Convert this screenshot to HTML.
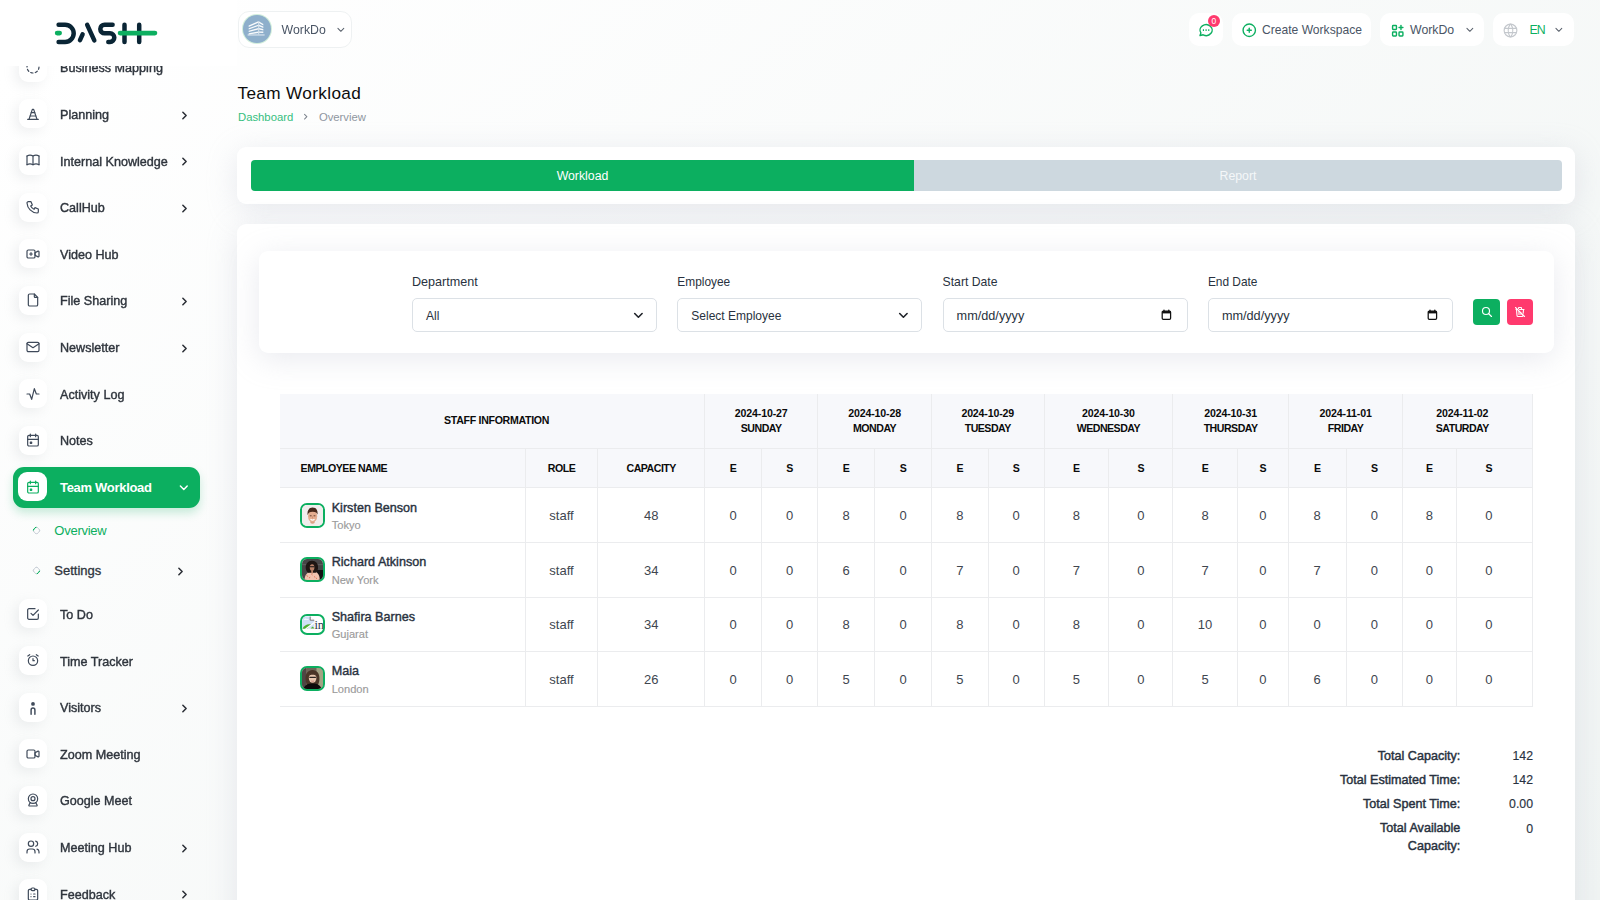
<!DOCTYPE html><html><head><meta charset="utf-8"><title>Team Workload</title><style>
*{box-sizing:border-box;margin:0;padding:0}
html,body{width:1600px;height:900px;overflow:hidden}
body{font-family:"Liberation Sans",sans-serif;background:#fff linear-gradient(141.55deg,rgba(240,244,243,0) 3.46%,#f0f4f3 99.86%);position:relative}
.t{position:absolute;white-space:nowrap}
.ic{position:absolute;overflow:visible}
.b{position:absolute}
</style></head><body>
<div class="b" style="left:18.5px;top:52.60px;width:28.5px;height:29px;border-radius:9px;background:#fff;box-shadow:-4px 4px 12px rgba(160,165,175,.16)"></div>
<svg class="ic" style="left:24.75px;top:59.10px;width:16px;height:16px;" viewBox="0 0 24 24" fill="none" stroke="#3f4a5a" stroke-width="1.8" stroke-linecap="round" stroke-linejoin="round"><path d="M8.56 3.69a9 9 0 0 0 -2.92 1.95"/><path d="M3.69 8.56a9 9 0 0 0 -.69 3.44"/><path d="M3.69 15.44a9 9 0 0 0 1.95 2.92"/><path d="M8.56 20.31a9 9 0 0 0 3.44 .69"/><path d="M15.44 20.31a9 9 0 0 0 2.92 -1.95"/><path d="M20.31 15.44a9 9 0 0 0 .69 -3.44"/><path d="M20.31 8.56a9 9 0 0 0 -1.95 -2.92"/><path d="M15.44 3.69a9 9 0 0 0 -3.44 -.69"/></svg>
<div class="t" style="left:60.00px;top:62.23px;font-size:12.6px;line-height:12.6px;color:#2f353d;font-weight:400;-webkit-text-stroke:0.4px #2f353d;will-change:transform;">Business Mapping</div>
<div class="b" style="left:18.5px;top:99.25px;width:28.5px;height:29px;border-radius:9px;background:#fff;box-shadow:-4px 4px 12px rgba(160,165,175,.16)"></div>
<svg class="ic" style="left:24.75px;top:105.75px;width:16px;height:16px;" viewBox="0 0 24 24" fill="none" stroke="#3f4a5a" stroke-width="1.8" stroke-linecap="round" stroke-linejoin="round"><path d="M4 20l16 0"/><path d="M9.4 10l5.2 0"/><path d="M7.8 15l8.4 0"/><path d="M6 20l5 -15h2l5 15"/></svg>
<div class="t" style="left:60.00px;top:108.88px;font-size:12.6px;line-height:12.6px;color:#2f353d;font-weight:400;-webkit-text-stroke:0.4px #2f353d;will-change:transform;">Planning</div>
<svg class="ic" style="left:178.40px;top:108.50px;width:13px;height:13px;" viewBox="0 0 24 24" fill="none" stroke="#2b2f36" stroke-width="2.8" stroke-linecap="round" stroke-linejoin="round"><path d="M9 6l6 6l-6 6"/></svg>
<div class="b" style="left:18.5px;top:145.90px;width:28.5px;height:29px;border-radius:9px;background:#fff;box-shadow:-4px 4px 12px rgba(160,165,175,.16)"></div>
<svg class="ic" style="left:24.75px;top:152.40px;width:16px;height:16px;" viewBox="0 0 24 24" fill="none" stroke="#3f4a5a" stroke-width="1.8" stroke-linecap="round" stroke-linejoin="round"><path d="M3 19a9 9 0 0 1 9 0a9 9 0 0 1 9 0"/><path d="M3 6a9 9 0 0 1 9 0a9 9 0 0 1 9 0"/><path d="M3 6l0 13"/><path d="M12 6l0 13"/><path d="M21 6l0 13"/></svg>
<div class="t" style="left:60.00px;top:155.53px;font-size:12.6px;line-height:12.6px;color:#2f353d;font-weight:400;-webkit-text-stroke:0.4px #2f353d;will-change:transform;">Internal Knowledge</div>
<svg class="ic" style="left:178.40px;top:155.15px;width:13px;height:13px;" viewBox="0 0 24 24" fill="none" stroke="#2b2f36" stroke-width="2.8" stroke-linecap="round" stroke-linejoin="round"><path d="M9 6l6 6l-6 6"/></svg>
<div class="b" style="left:18.5px;top:192.55px;width:28.5px;height:29px;border-radius:9px;background:#fff;box-shadow:-4px 4px 12px rgba(160,165,175,.16)"></div>
<svg class="ic" style="left:24.75px;top:199.05px;width:16px;height:16px;" viewBox="0 0 24 24" fill="none" stroke="#3f4a5a" stroke-width="1.8" stroke-linecap="round" stroke-linejoin="round"><path d="M5 4h4l2 5l-2.5 1.5a11 11 0 0 0 5 5l1.5 -2.5l5 2v4a2 2 0 0 1 -2 2a16 16 0 0 1 -15 -15a2 2 0 0 1 2 -2"/></svg>
<div class="t" style="left:60.00px;top:202.18px;font-size:12.6px;line-height:12.6px;color:#2f353d;font-weight:400;-webkit-text-stroke:0.4px #2f353d;will-change:transform;">CallHub</div>
<svg class="ic" style="left:178.40px;top:201.80px;width:13px;height:13px;" viewBox="0 0 24 24" fill="none" stroke="#2b2f36" stroke-width="2.8" stroke-linecap="round" stroke-linejoin="round"><path d="M9 6l6 6l-6 6"/></svg>
<div class="b" style="left:18.5px;top:239.20px;width:28.5px;height:29px;border-radius:9px;background:#fff;box-shadow:-4px 4px 12px rgba(160,165,175,.16)"></div>
<svg class="ic" style="left:24.75px;top:245.70px;width:16px;height:16px;" viewBox="0 0 24 24" fill="none" stroke="#3f4a5a" stroke-width="1.8" stroke-linecap="round" stroke-linejoin="round"><path d="M15 10l4.553 -2.276a1 1 0 0 1 1.447 .894v6.764a1 1 0 0 1 -1.447 .894l-4.553 -2.276v-4z"/><path d="M3 8a2 2 0 0 1 2 -2h8a2 2 0 0 1 2 2v8a2 2 0 0 1 -2 2h-8a2 2 0 0 1 -2 -2z"/><path d="M7 12l4 0"/><path d="M9 10l0 4"/></svg>
<div class="t" style="left:60.00px;top:248.83px;font-size:12.6px;line-height:12.6px;color:#2f353d;font-weight:400;-webkit-text-stroke:0.4px #2f353d;will-change:transform;">Video Hub</div>
<div class="b" style="left:18.5px;top:285.85px;width:28.5px;height:29px;border-radius:9px;background:#fff;box-shadow:-4px 4px 12px rgba(160,165,175,.16)"></div>
<svg class="ic" style="left:24.75px;top:292.35px;width:16px;height:16px;" viewBox="0 0 24 24" fill="none" stroke="#3f4a5a" stroke-width="1.8" stroke-linecap="round" stroke-linejoin="round"><path d="M14 3v4a1 1 0 0 0 1 1h4"/><path d="M17 21h-10a2 2 0 0 1 -2 -2v-14a2 2 0 0 1 2 -2h7l5 5v11a2 2 0 0 1 -2 2z"/></svg>
<div class="t" style="left:60.00px;top:295.48px;font-size:12.6px;line-height:12.6px;color:#2f353d;font-weight:400;-webkit-text-stroke:0.4px #2f353d;will-change:transform;">File Sharing</div>
<svg class="ic" style="left:178.40px;top:295.10px;width:13px;height:13px;" viewBox="0 0 24 24" fill="none" stroke="#2b2f36" stroke-width="2.8" stroke-linecap="round" stroke-linejoin="round"><path d="M9 6l6 6l-6 6"/></svg>
<div class="b" style="left:18.5px;top:332.50px;width:28.5px;height:29px;border-radius:9px;background:#fff;box-shadow:-4px 4px 12px rgba(160,165,175,.16)"></div>
<svg class="ic" style="left:24.75px;top:339.00px;width:16px;height:16px;" viewBox="0 0 24 24" fill="none" stroke="#3f4a5a" stroke-width="1.8" stroke-linecap="round" stroke-linejoin="round"><path d="M3 7a2 2 0 0 1 2 -2h14a2 2 0 0 1 2 2v10a2 2 0 0 1 -2 2h-14a2 2 0 0 1 -2 -2v-10z"/><path d="M3 7l9 6l9 -6"/></svg>
<div class="t" style="left:60.00px;top:342.13px;font-size:12.6px;line-height:12.6px;color:#2f353d;font-weight:400;-webkit-text-stroke:0.4px #2f353d;will-change:transform;">Newsletter</div>
<svg class="ic" style="left:178.40px;top:341.75px;width:13px;height:13px;" viewBox="0 0 24 24" fill="none" stroke="#2b2f36" stroke-width="2.8" stroke-linecap="round" stroke-linejoin="round"><path d="M9 6l6 6l-6 6"/></svg>
<div class="b" style="left:18.5px;top:379.15px;width:28.5px;height:29px;border-radius:9px;background:#fff;box-shadow:-4px 4px 12px rgba(160,165,175,.16)"></div>
<svg class="ic" style="left:24.75px;top:385.65px;width:16px;height:16px;" viewBox="0 0 24 24" fill="none" stroke="#3f4a5a" stroke-width="1.8" stroke-linecap="round" stroke-linejoin="round"><path d="M3 12h4l3 8l4 -16l3 8h4"/></svg>
<div class="t" style="left:60.00px;top:388.78px;font-size:12.6px;line-height:12.6px;color:#2f353d;font-weight:400;-webkit-text-stroke:0.4px #2f353d;will-change:transform;">Activity Log</div>
<div class="b" style="left:18.5px;top:425.80px;width:28.5px;height:29px;border-radius:9px;background:#fff;box-shadow:-4px 4px 12px rgba(160,165,175,.16)"></div>
<svg class="ic" style="left:24.75px;top:432.30px;width:16px;height:16px;" viewBox="0 0 24 24" fill="none" stroke="#3f4a5a" stroke-width="1.8" stroke-linecap="round" stroke-linejoin="round"><path d="M4 7a2 2 0 0 1 2 -2h12a2 2 0 0 1 2 2v12a2 2 0 0 1 -2 2h-12a2 2 0 0 1 -2 -2z"/><path d="M16 3l0 4"/><path d="M8 3l0 4"/><path d="M4 11l16 0"/><path d="M8 15h2v2h-2z"/></svg>
<div class="t" style="left:60.00px;top:435.43px;font-size:12.6px;line-height:12.6px;color:#2f353d;font-weight:400;-webkit-text-stroke:0.4px #2f353d;will-change:transform;">Notes</div>
<div class="b" style="left:18.5px;top:599.25px;width:28.5px;height:29px;border-radius:9px;background:#fff;box-shadow:-4px 4px 12px rgba(160,165,175,.16)"></div>
<svg class="ic" style="left:24.75px;top:605.75px;width:16px;height:16px;" viewBox="0 0 24 24" fill="none" stroke="#3f4a5a" stroke-width="1.8" stroke-linecap="round" stroke-linejoin="round"><path d="M9 11l3 3l8 -8"/><path d="M20 12v6a2 2 0 0 1 -2 2h-12a2 2 0 0 1 -2 -2v-12a2 2 0 0 1 2 -2h9"/></svg>
<div class="t" style="left:60.00px;top:608.88px;font-size:12.6px;line-height:12.6px;color:#2f353d;font-weight:400;-webkit-text-stroke:0.4px #2f353d;will-change:transform;">To Do</div>
<div class="b" style="left:18.5px;top:645.90px;width:28.5px;height:29px;border-radius:9px;background:#fff;box-shadow:-4px 4px 12px rgba(160,165,175,.16)"></div>
<svg class="ic" style="left:24.75px;top:652.40px;width:16px;height:16px;" viewBox="0 0 24 24" fill="none" stroke="#3f4a5a" stroke-width="1.8" stroke-linecap="round" stroke-linejoin="round"><path d="M12 13m-7 0a7 7 0 1 0 14 0a7 7 0 1 0 -14 0"/><path d="M12 10l0 3l2 0"/><path d="M7 4l-2.75 2"/><path d="M17 4l2.75 2"/></svg>
<div class="t" style="left:60.00px;top:655.53px;font-size:12.6px;line-height:12.6px;color:#2f353d;font-weight:400;-webkit-text-stroke:0.4px #2f353d;will-change:transform;">Time Tracker</div>
<div class="b" style="left:18.5px;top:692.55px;width:28.5px;height:29px;border-radius:9px;background:#fff;box-shadow:-4px 4px 12px rgba(160,165,175,.16)"></div>
<svg class="ic" style="left:20px;top:692.00px;width:26px;height:30px" viewBox="20 692 26 30"><circle cx="33" cy="703.9" r="1.9" fill="#3f4a5a"/><path d="M31.1 714.3V709.9A1.9 1.9 0 0 1 34.9 709.9V714.3" fill="none" stroke="#3f4a5a" stroke-width="1.45" stroke-linecap="round"/></svg>
<div class="t" style="left:60.00px;top:702.18px;font-size:12.6px;line-height:12.6px;color:#2f353d;font-weight:400;-webkit-text-stroke:0.4px #2f353d;will-change:transform;">Visitors</div>
<svg class="ic" style="left:178.40px;top:701.80px;width:13px;height:13px;" viewBox="0 0 24 24" fill="none" stroke="#2b2f36" stroke-width="2.8" stroke-linecap="round" stroke-linejoin="round"><path d="M9 6l6 6l-6 6"/></svg>
<div class="b" style="left:18.5px;top:739.20px;width:28.5px;height:29px;border-radius:9px;background:#fff;box-shadow:-4px 4px 12px rgba(160,165,175,.16)"></div>
<svg class="ic" style="left:24.75px;top:745.70px;width:16px;height:16px;" viewBox="0 0 24 24" fill="none" stroke="#3f4a5a" stroke-width="1.8" stroke-linecap="round" stroke-linejoin="round"><path d="M15 10l4.553 -2.276a1 1 0 0 1 1.447 .894v6.764a1 1 0 0 1 -1.447 .894l-4.553 -2.276v-4z"/><path d="M3 8a2 2 0 0 1 2 -2h8a2 2 0 0 1 2 2v8a2 2 0 0 1 -2 2h-8a2 2 0 0 1 -2 -2z"/></svg>
<div class="t" style="left:60.00px;top:748.83px;font-size:12.6px;line-height:12.6px;color:#2f353d;font-weight:400;-webkit-text-stroke:0.4px #2f353d;will-change:transform;">Zoom Meeting</div>
<div class="b" style="left:18.5px;top:785.85px;width:28.5px;height:29px;border-radius:9px;background:#fff;box-shadow:-4px 4px 12px rgba(160,165,175,.16)"></div>
<svg class="ic" style="left:24.75px;top:792.35px;width:16px;height:16px;" viewBox="0 0 24 24" fill="none" stroke="#3f4a5a" stroke-width="1.8" stroke-linecap="round" stroke-linejoin="round"><path d="M12 10m-7 0a7 7 0 1 0 14 0a7 7 0 1 0 -14 0"/><path d="M12 10m-3 0a3 3 0 1 0 6 0a3 3 0 1 0 -6 0"/><path d="M8 16l-2.091 3.486a1 1 0 0 0 .857 1.514h10.468a1 1 0 0 0 .857 -1.514l-2.091 -3.486"/></svg>
<div class="t" style="left:60.00px;top:795.48px;font-size:12.6px;line-height:12.6px;color:#2f353d;font-weight:400;-webkit-text-stroke:0.4px #2f353d;will-change:transform;">Google Meet</div>
<div class="b" style="left:18.5px;top:832.50px;width:28.5px;height:29px;border-radius:9px;background:#fff;box-shadow:-4px 4px 12px rgba(160,165,175,.16)"></div>
<svg class="ic" style="left:24.75px;top:839.00px;width:16px;height:16px;" viewBox="0 0 24 24" fill="none" stroke="#3f4a5a" stroke-width="1.8" stroke-linecap="round" stroke-linejoin="round"><path d="M9 7m-4 0a4 4 0 1 0 8 0a4 4 0 1 0 -8 0"/><path d="M3 21v-2a4 4 0 0 1 4 -4h4a4 4 0 0 1 4 4v2"/><path d="M16 3.13a4 4 0 0 1 0 7.75"/><path d="M21 21v-2a4 4 0 0 0 -3 -3.85"/></svg>
<div class="t" style="left:60.00px;top:842.13px;font-size:12.6px;line-height:12.6px;color:#2f353d;font-weight:400;-webkit-text-stroke:0.4px #2f353d;will-change:transform;">Meeting Hub</div>
<svg class="ic" style="left:178.40px;top:841.75px;width:13px;height:13px;" viewBox="0 0 24 24" fill="none" stroke="#2b2f36" stroke-width="2.8" stroke-linecap="round" stroke-linejoin="round"><path d="M9 6l6 6l-6 6"/></svg>
<div class="b" style="left:18.5px;top:879.15px;width:28.5px;height:29px;border-radius:9px;background:#fff;box-shadow:-4px 4px 12px rgba(160,165,175,.16)"></div>
<svg class="ic" style="left:24.75px;top:885.65px;width:16px;height:16px;" viewBox="0 0 24 24" fill="none" stroke="#3f4a5a" stroke-width="1.8" stroke-linecap="round" stroke-linejoin="round"><path d="M9 5h-2a2 2 0 0 0 -2 2v12a2 2 0 0 0 2 2h10a2 2 0 0 0 2 -2v-12a2 2 0 0 0 -2 -2h-2"/><path d="M9 5a2 2 0 0 1 2 -2h2a2 2 0 0 1 2 2a2 2 0 0 1 -2 2h-2a2 2 0 0 1 -2 -2z"/><path d="M9 12h.01"/><path d="M9 16h.01"/><path d="M13 12h2"/><path d="M13 16h2"/></svg>
<div class="t" style="left:60.00px;top:888.78px;font-size:12.6px;line-height:12.6px;color:#2f353d;font-weight:400;-webkit-text-stroke:0.4px #2f353d;will-change:transform;">Feedback</div>
<svg class="ic" style="left:178.40px;top:888.40px;width:13px;height:13px;" viewBox="0 0 24 24" fill="none" stroke="#2b2f36" stroke-width="2.8" stroke-linecap="round" stroke-linejoin="round"><path d="M9 6l6 6l-6 6"/></svg>
<div class="b" style="left:12.75px;top:467px;width:187.25px;height:40.5px;border-radius:11px;background:#0caf60;box-shadow:0 5px 10px rgba(12,175,96,.22)"></div>
<div class="b" style="left:18.3px;top:472.3px;width:29px;height:29.2px;border-radius:9px;background:#fff"></div>
<svg class="ic" style="left:24.80px;top:479.00px;width:16px;height:16px;" viewBox="0 0 24 24" fill="none" stroke="#0caf60" stroke-width="1.8" stroke-linecap="round" stroke-linejoin="round"><path d="M4 7a2 2 0 0 1 2 -2h12a2 2 0 0 1 2 2v12a2 2 0 0 1 -2 2h-12a2 2 0 0 1 -2 -2z"/><path d="M16 3l0 4"/><path d="M8 3l0 4"/><path d="M4 11l16 0"/><path d="M8 15h2v2h-2z"/></svg>
<div class="t" style="left:60.00px;top:481.00px;font-size:13px;line-height:13px;color:#ffffff;font-weight:700;letter-spacing:-0.3px;">Team Workload</div>
<svg class="ic" style="left:176.75px;top:480.55px;width:13.6px;height:13.6px;" viewBox="0 0 24 24" fill="none" stroke="#ffffff" stroke-width="2.6" stroke-linecap="round" stroke-linejoin="round"><path d="M6 9l6 6l6 -6"/></svg>
<div class="b" style="left:33px;top:527px;width:7px;height:7px;border-radius:50%;border:1.8px solid #cdd3da;border-left-color:#0caf60;transform:rotate(45deg)"></div>
<div class="t" style="left:54.30px;top:523.80px;font-size:13px;line-height:13px;color:#0caf60;font-weight:400;letter-spacing:-0.25px;">Overview</div>
<div class="b" style="left:33px;top:567px;width:7px;height:7px;border-radius:50%;border:1.8px solid #cdd3da;border-bottom-color:#0caf60;transform:rotate(-45deg)"></div>
<div class="t" style="left:54.30px;top:564.30px;font-size:13px;line-height:13px;color:#2f353d;font-weight:400;-webkit-text-stroke:0.3px #2f353d;">Settings</div>
<svg class="ic" style="left:173.90px;top:565.00px;width:13px;height:13px;" viewBox="0 0 24 24" fill="none" stroke="#2b2f36" stroke-width="2.8" stroke-linecap="round" stroke-linejoin="round"><path d="M9 6l6 6l-6 6"/></svg>
<div class="b" style="left:0;top:0;width:237px;height:66px;background:#fff"></div>
<svg class="ic" style="left:50px;top:18px;width:110px;height:30px" viewBox="50 18 110 30">
<g fill="none" stroke="#0a2535" stroke-width="4.5" stroke-linecap="round" stroke-linejoin="round">
<path d="M58.6 24.7H65.1A8.6 8.6 0 0 1 65.1 41.9H58.6"/>
<path d="M80 40.2L82.6 34.4"/>
<path d="M87.2 24.9L94.3 40.4"/>
<path d="M112.6 24.7H104.6A4.3 4.3 0 0 0 104.6 33.3H110A4.3 4.3 0 0 1 110 41.9H108.3"/>
<path d="M124.5 24.7V41.9"/><path d="M139.2 24.7V41.9"/>
</g>
<g fill="none" stroke="#0caf60" stroke-width="4.8" stroke-linecap="round">
<path d="M57.2 33.1H59.6"/><path d="M120.1 33.1H154.9"/>
</g>
</svg>
<div class="b" style="left:238px;top:10.5px;width:113.5px;height:37.5px;border-radius:11px;background:#fff;border:1px solid #eef1f2"></div>
<div class="b" style="left:242.9px;top:15px;width:27.8px;height:27.8px;border-radius:50%;background:#8eafcb;box-shadow:0 0 0 1px #d3efdc"></div>
<svg class="ic" style="left:240px;top:13px;width:34px;height:34px" viewBox="240 13 34 34"><g fill="#ffffff" opacity=".95"><path d="M248.7 25.57L258.3 21.27V22.73L248.7 27.03z"/><path d="M248.7 28.17L258.3 24.67V26.12L248.7 29.62z"/><path d="M248.7 30.67L258.3 28.07V29.53L248.7 32.12z"/><path d="M248.7 33.17L258.3 31.48V32.93L248.7 34.62z"/><path d="M259.1 21.47L263.3 23.97V25.43L259.1 22.93z"/><path d="M259.1 24.77L263.3 26.47V27.93L259.1 26.23z"/><path d="M259.1 28.07L263.3 29.07V30.53L259.1 29.53z"/><path d="M259.1 31.38L263.3 31.57V33.02L259.1 32.83z"/><path d="M258.3 21.2h.9v13h-.9z" opacity=".8"/><rect x="247.6" y="34.2" width="17" height="1.5" opacity=".55"/></g></svg>
<div class="t" style="left:281.60px;top:24.19px;font-size:12.3px;line-height:12.3px;color:#4a5565;font-weight:400;">WorkDo</div>
<svg class="ic" style="left:334.70px;top:23.50px;width:11.7px;height:11.7px;" viewBox="0 0 24 24" fill="none" stroke="#59616c" stroke-width="2.1" stroke-linecap="round" stroke-linejoin="round"><path d="M6 9l6 6l6 -6"/></svg>
<div class="b" style="left:1188.5px;top:12.5px;width:34.5px;height:33.5px;border-radius:10px;background:#fff"></div>
<svg class="ic" style="left:1198.1px;top:22.1px;width:16.2px;height:16.2px" viewBox="0 0 24 24" fill="none" stroke="#0caf60" stroke-width="2.1" stroke-linecap="round" stroke-linejoin="round">
<path d="M3 20l1.3 -3.9c-2.324 -3.437 -1.426 -7.872 2.1 -10.374c3.526 -2.501 8.59 -2.296 11.845 .48c3.255 2.777 3.695 7.266 1.029 10.501c-2.666 3.235 -7.615 4.215 -11.574 2.293l-4.7 1"/>
<path d="M7.2 12h1.7M11.15 12h1.7M15.1 12h1.7" stroke-linecap="butt" stroke-width="2.6"/></svg>
<div class="b" style="left:1207.6px;top:14.6px;width:12.5px;height:12.5px;border-radius:50%;background:#ff3a6e;color:#fff;font-size:8.5px;line-height:12.5px;text-align:center">0</div>
<div class="b" style="left:1232px;top:12.5px;width:139px;height:33.5px;border-radius:10px;background:#fff"></div>
<svg class="ic" style="left:1241px;top:21.5px;width:16.5px;height:16.5px" viewBox="0 0 24 24" fill="none" stroke="#0caf60" stroke-width="2" stroke-linecap="round" stroke-linejoin="round">
<path d="M12 12m-9 0a9 9 0 1 0 18 0a9 9 0 1 0 -18 0"/><path d="M9 12h6"/><path d="M12 9v6"/></svg>
<div class="t" style="left:1262.00px;top:24.36px;font-size:12.1px;line-height:12.1px;color:#4a5565;font-weight:400;">Create Workspace</div>
<div class="b" style="left:1380.3px;top:12.5px;width:103.6px;height:33.5px;border-radius:10px;background:#fff"></div>
<svg class="ic" style="left:1389.5px;top:22.5px;width:15.5px;height:15.5px" viewBox="0 0 24 24" fill="none" stroke="#0caf60" stroke-width="2.2" stroke-linecap="round" stroke-linejoin="round">
<path d="M4 5a1 1 0 0 1 1 -1h4a1 1 0 0 1 1 1v4a1 1 0 0 1 -1 1h-4a1 1 0 0 1 -1 -1z"/><path d="M4 15a1 1 0 0 1 1 -1h4a1 1 0 0 1 1 1v4a1 1 0 0 1 -1 1h-4a1 1 0 0 1 -1 -1z"/><path d="M14 15a1 1 0 0 1 1 -1h4a1 1 0 0 1 1 1v4a1 1 0 0 1 -1 1h-4a1 1 0 0 1 -1 -1z"/><path d="M14 7l6 0"/><path d="M17 4l0 6"/></svg>
<div class="t" style="left:1410.00px;top:24.19px;font-size:12.3px;line-height:12.3px;color:#4a5565;font-weight:400;">WorkDo</div>
<svg class="ic" style="left:1463.70px;top:23.50px;width:11.7px;height:11.7px;" viewBox="0 0 24 24" fill="none" stroke="#59616c" stroke-width="2.1" stroke-linecap="round" stroke-linejoin="round"><path d="M6 9l6 6l6 -6"/></svg>
<div class="b" style="left:1492.8px;top:12.5px;width:81px;height:33.5px;border-radius:10px;background:#fff"></div>
<svg class="ic" style="left:1501.5px;top:21.5px;width:17px;height:17px" viewBox="0 0 24 24" fill="none" stroke="#c4c8cd" stroke-width="1.6" stroke-linecap="round" stroke-linejoin="round">
<path d="M12 12m-9 0a9 9 0 1 0 18 0a9 9 0 1 0 -18 0"/><path d="M3.6 9h16.8"/><path d="M3.6 15h16.8"/><path d="M11.5 3a17 17 0 0 0 0 18"/><path d="M12.5 3a17 17 0 0 1 0 18"/></svg>
<div class="t" style="left:1529.60px;top:24.19px;font-size:12.3px;line-height:12.3px;color:#0caf60;font-weight:400;letter-spacing:-1.1px;">EN</div>
<svg class="ic" style="left:1553.40px;top:23.50px;width:11.7px;height:11.7px;" viewBox="0 0 24 24" fill="none" stroke="#59616c" stroke-width="2.1" stroke-linecap="round" stroke-linejoin="round"><path d="M6 9l6 6l6 -6"/></svg>
<div class="t" style="left:237.50px;top:85.04px;font-size:17.2px;line-height:17.2px;color:#0d0d0d;font-weight:400;letter-spacing:0.35px;">Team Workload</div>
<div class="t" style="left:238.00px;top:111.53px;font-size:11.3px;line-height:11.3px;color:#36bf7f;font-weight:400;">Dashboard</div>
<svg class="ic" style="left:300.70px;top:112.30px;width:9.4px;height:9.4px;" viewBox="0 0 24 24" fill="none" stroke="#7d848e" stroke-width="2.6" stroke-linecap="round" stroke-linejoin="round"><path d="M9 6l6 6l-6 6"/></svg>
<div class="t" style="left:318.90px;top:111.53px;font-size:11.3px;line-height:11.3px;color:#8f96a0;font-weight:400;">Overview</div>
<div class="b" style="left:237px;top:147px;width:1338px;height:57px;border-radius:9px;background:#fff;box-shadow:0 6px 30px rgba(182,186,203,.3)"></div>
<div class="b" style="left:251px;top:160px;width:663px;height:31px;border-radius:4px 0 0 4px;background:#0caf60"></div>
<div class="b" style="left:914px;top:160px;width:648px;height:31px;border-radius:0 4px 4px 0;background:#cdd8df"></div>
<div class="t" style="left:282.50px;width:600px;text-align:center;top:169.79px;font-size:12.3px;line-height:12.3px;color:#ffffff;font-weight:400;">Workload</div>
<div class="t" style="left:938.00px;width:600px;text-align:center;top:169.79px;font-size:12.3px;line-height:12.3px;color:#f4f7f9;font-weight:400;">Report</div>
<div class="b" style="left:237px;top:224px;width:1338px;height:720px;border-radius:9px;background:#fff;box-shadow:0 6px 30px rgba(182,186,203,.3)"></div>
<div class="b" style="left:258.7px;top:251.3px;width:1295.3px;height:101.5px;border-radius:9px;background:#fff;box-shadow:0 6px 30px rgba(182,186,203,.3)"></div>
<div class="t" style="left:412.00px;top:275.63px;font-size:12.6px;line-height:12.6px;color:#293240;font-weight:400;">Department</div>
<div class="b" style="left:412.00px;top:298.2px;width:245px;height:34.2px;border-radius:5px;border:1px solid #dce1e6;background:#fff"></div>
<div class="t" style="left:426.00px;top:310.44px;font-size:12.0px;line-height:12.0px;color:#293240;font-weight:400;">All</div>
<svg class="ic" style="left:631.10px;top:307.70px;width:14.8px;height:14.8px;" viewBox="0 0 24 24" fill="none" stroke="#1f2329" stroke-width="2.6" stroke-linecap="round" stroke-linejoin="round"><path d="M6 9l6 6l6 -6"/></svg>
<div class="t" style="left:677.30px;top:276.83px;font-size:11.9px;line-height:11.9px;color:#293240;font-weight:400;">Employee</div>
<div class="b" style="left:677.30px;top:298.2px;width:245px;height:34.2px;border-radius:5px;border:1px solid #dce1e6;background:#fff"></div>
<div class="t" style="left:691.30px;top:310.44px;font-size:12.0px;line-height:12.0px;color:#293240;font-weight:400;">Select Employee</div>
<svg class="ic" style="left:896.40px;top:307.70px;width:14.8px;height:14.8px;" viewBox="0 0 24 24" fill="none" stroke="#1f2329" stroke-width="2.6" stroke-linecap="round" stroke-linejoin="round"><path d="M6 9l6 6l6 -6"/></svg>
<div class="t" style="left:942.60px;top:275.97px;font-size:12.2px;line-height:12.2px;color:#293240;font-weight:400;">Start Date</div>
<div class="b" style="left:942.60px;top:298.2px;width:245px;height:34.2px;border-radius:5px;border:1px solid #dce1e6;background:#fff"></div>
<div class="t" style="left:956.60px;top:309.85px;font-size:12.7px;line-height:12.7px;color:#293240;font-weight:400;">mm/dd/yyyy</div>
<svg class="ic" style="left:1161.40px;top:308.6px;width:11px;height:12px" viewBox="0 0 11 12"><rect x="1.2" y="2.1" width="8.4" height="8.3" rx="1.1" fill="none" stroke="#111" stroke-width="1.25"/><rect x="1.2" y="2.1" width="8.4" height="2.3" fill="#111"/><path d="M3 1.1v1.6M7.8 1.1v1.6" stroke="#111" stroke-width="1.3" stroke-linecap="round"/></svg>
<div class="t" style="left:1207.90px;top:276.83px;font-size:11.9px;line-height:11.9px;color:#293240;font-weight:400;">End Date</div>
<div class="b" style="left:1207.90px;top:298.2px;width:245px;height:34.2px;border-radius:5px;border:1px solid #dce1e6;background:#fff"></div>
<div class="t" style="left:1221.90px;top:309.85px;font-size:12.7px;line-height:12.7px;color:#293240;font-weight:400;">mm/dd/yyyy</div>
<svg class="ic" style="left:1426.70px;top:308.6px;width:11px;height:12px" viewBox="0 0 11 12"><rect x="1.2" y="2.1" width="8.4" height="8.3" rx="1.1" fill="none" stroke="#111" stroke-width="1.25"/><rect x="1.2" y="2.1" width="8.4" height="2.3" fill="#111"/><path d="M3 1.1v1.6M7.8 1.1v1.6" stroke="#111" stroke-width="1.3" stroke-linecap="round"/></svg>
<div class="b" style="left:1473.25px;top:299px;width:26.75px;height:25.75px;border-radius:4px;background:#0caf60"></div>
<svg class="ic" style="left:1480.60px;top:305.90px;width:12px;height:12px;" viewBox="0 0 24 24" fill="none" stroke="#ffffff" stroke-width="2.3" stroke-linecap="round" stroke-linejoin="round"><path d="M10 10m-7 0a7 7 0 1 0 14 0a7 7 0 1 0 -14 0"/><path d="M21 21l-6 -6"/></svg>
<div class="b" style="left:1506.75px;top:299px;width:26.25px;height:25.75px;border-radius:4px;background:#ff3a6e"></div>
<svg class="ic" style="left:1513.80px;top:305.90px;width:12px;height:12px;" viewBox="0 0 24 24" fill="none" stroke="#ffffff" stroke-width="2.2" stroke-linecap="round" stroke-linejoin="round"><path d="M3 3l18 18"/><path d="M4 7h3m4 0h9"/><path d="M10 11l0 6"/><path d="M14 14l0 3"/><path d="M5 7l1 12a2 2 0 0 0 2 2h8a2 2 0 0 0 2 -2l.077 -.923"/><path d="M18.384 14.373l.616 -7.373"/><path d="M9 5v-1a1 1 0 0 1 1 -1h4a1 1 0 0 1 1 1v3"/></svg>
<div class="b" style="left:279.5px;top:394.2px;width:1253.30px;height:93.60px;background:#f7f8fb"></div>
<div class="b" style="left:279.5px;top:447.70px;width:1253.30px;height:1px;background:#ebecee"></div>
<div class="b" style="left:279.5px;top:487.30px;width:1253.30px;height:1px;background:#ebecee"></div>
<div class="b" style="left:279.5px;top:542.00px;width:1253.30px;height:1px;background:#ebecee"></div>
<div class="b" style="left:279.5px;top:596.50px;width:1253.30px;height:1px;background:#ebecee"></div>
<div class="b" style="left:279.5px;top:651.00px;width:1253.30px;height:1px;background:#ebecee"></div>
<div class="b" style="left:279.5px;top:705.50px;width:1253.30px;height:1px;background:#ebecee"></div>
<div class="b" style="left:524.80px;top:448.20px;width:1px;height:257.80px;background:#ebecee"></div>
<div class="b" style="left:597.30px;top:448.20px;width:1px;height:257.80px;background:#ebecee"></div>
<div class="b" style="left:704.20px;top:394.20px;width:1px;height:311.80px;background:#ebecee"></div>
<div class="b" style="left:761.10px;top:448.20px;width:1px;height:257.80px;background:#ebecee"></div>
<div class="b" style="left:817.20px;top:394.20px;width:1px;height:311.80px;background:#ebecee"></div>
<div class="b" style="left:874.10px;top:448.20px;width:1px;height:257.80px;background:#ebecee"></div>
<div class="b" style="left:931.00px;top:394.20px;width:1px;height:311.80px;background:#ebecee"></div>
<div class="b" style="left:987.50px;top:448.20px;width:1px;height:257.80px;background:#ebecee"></div>
<div class="b" style="left:1043.50px;top:394.20px;width:1px;height:311.80px;background:#ebecee"></div>
<div class="b" style="left:1108.30px;top:448.20px;width:1px;height:257.80px;background:#ebecee"></div>
<div class="b" style="left:1172.30px;top:394.20px;width:1px;height:311.80px;background:#ebecee"></div>
<div class="b" style="left:1236.70px;top:448.20px;width:1px;height:257.80px;background:#ebecee"></div>
<div class="b" style="left:1287.90px;top:394.20px;width:1px;height:311.80px;background:#ebecee"></div>
<div class="b" style="left:1345.50px;top:448.20px;width:1px;height:257.80px;background:#ebecee"></div>
<div class="b" style="left:1402.30px;top:394.20px;width:1px;height:311.80px;background:#ebecee"></div>
<div class="b" style="left:1455.50px;top:448.20px;width:1px;height:257.80px;background:#ebecee"></div>
<div class="b" style="left:1532.30px;top:394.20px;width:1px;height:311.80px;background:#ebecee"></div>
<div class="t" style="left:196.60px;width:600px;text-align:center;top:415.43px;font-size:10.6px;line-height:10.6px;color:#0b0b0b;font-weight:700;letter-spacing:-0.3px;">STAFF INFORMATION</div>
<div class="t" style="left:461.20px;width:600px;text-align:center;top:407.78px;font-size:10.6px;line-height:10.6px;color:#0b0b0b;font-weight:700;letter-spacing:-0.15px;">2024-10-27</div>
<div class="t" style="left:461.20px;width:600px;text-align:center;top:422.83px;font-size:10.6px;line-height:10.6px;color:#0b0b0b;font-weight:700;letter-spacing:-0.5px;">SUNDAY</div>
<div class="t" style="left:433.15px;width:600px;text-align:center;top:462.78px;font-size:10.6px;line-height:10.6px;color:#0b0b0b;font-weight:700;letter-spacing:-0.5px;">E</div>
<div class="t" style="left:489.65px;width:600px;text-align:center;top:462.78px;font-size:10.6px;line-height:10.6px;color:#0b0b0b;font-weight:700;letter-spacing:-0.5px;">S</div>
<div class="t" style="left:574.60px;width:600px;text-align:center;top:407.78px;font-size:10.6px;line-height:10.6px;color:#0b0b0b;font-weight:700;letter-spacing:-0.15px;">2024-10-28</div>
<div class="t" style="left:574.60px;width:600px;text-align:center;top:422.83px;font-size:10.6px;line-height:10.6px;color:#0b0b0b;font-weight:700;letter-spacing:-0.5px;">MONDAY</div>
<div class="t" style="left:546.15px;width:600px;text-align:center;top:462.78px;font-size:10.6px;line-height:10.6px;color:#0b0b0b;font-weight:700;letter-spacing:-0.5px;">E</div>
<div class="t" style="left:603.05px;width:600px;text-align:center;top:462.78px;font-size:10.6px;line-height:10.6px;color:#0b0b0b;font-weight:700;letter-spacing:-0.5px;">S</div>
<div class="t" style="left:687.75px;width:600px;text-align:center;top:407.78px;font-size:10.6px;line-height:10.6px;color:#0b0b0b;font-weight:700;letter-spacing:-0.15px;">2024-10-29</div>
<div class="t" style="left:687.75px;width:600px;text-align:center;top:422.83px;font-size:10.6px;line-height:10.6px;color:#0b0b0b;font-weight:700;letter-spacing:-0.5px;">TUESDAY</div>
<div class="t" style="left:659.75px;width:600px;text-align:center;top:462.78px;font-size:10.6px;line-height:10.6px;color:#0b0b0b;font-weight:700;letter-spacing:-0.5px;">E</div>
<div class="t" style="left:716.00px;width:600px;text-align:center;top:462.78px;font-size:10.6px;line-height:10.6px;color:#0b0b0b;font-weight:700;letter-spacing:-0.5px;">S</div>
<div class="t" style="left:808.40px;width:600px;text-align:center;top:407.78px;font-size:10.6px;line-height:10.6px;color:#0b0b0b;font-weight:700;letter-spacing:-0.15px;">2024-10-30</div>
<div class="t" style="left:808.40px;width:600px;text-align:center;top:422.83px;font-size:10.6px;line-height:10.6px;color:#0b0b0b;font-weight:700;letter-spacing:-0.5px;">WEDNESDAY</div>
<div class="t" style="left:776.40px;width:600px;text-align:center;top:462.78px;font-size:10.6px;line-height:10.6px;color:#0b0b0b;font-weight:700;letter-spacing:-0.5px;">E</div>
<div class="t" style="left:840.80px;width:600px;text-align:center;top:462.78px;font-size:10.6px;line-height:10.6px;color:#0b0b0b;font-weight:700;letter-spacing:-0.5px;">S</div>
<div class="t" style="left:930.60px;width:600px;text-align:center;top:407.78px;font-size:10.6px;line-height:10.6px;color:#0b0b0b;font-weight:700;letter-spacing:-0.15px;">2024-10-31</div>
<div class="t" style="left:930.60px;width:600px;text-align:center;top:422.83px;font-size:10.6px;line-height:10.6px;color:#0b0b0b;font-weight:700;letter-spacing:-0.5px;">THURSDAY</div>
<div class="t" style="left:905.00px;width:600px;text-align:center;top:462.78px;font-size:10.6px;line-height:10.6px;color:#0b0b0b;font-weight:700;letter-spacing:-0.5px;">E</div>
<div class="t" style="left:962.80px;width:600px;text-align:center;top:462.78px;font-size:10.6px;line-height:10.6px;color:#0b0b0b;font-weight:700;letter-spacing:-0.5px;">S</div>
<div class="t" style="left:1045.60px;width:600px;text-align:center;top:407.78px;font-size:10.6px;line-height:10.6px;color:#0b0b0b;font-weight:700;letter-spacing:-0.15px;">2024-11-01</div>
<div class="t" style="left:1045.60px;width:600px;text-align:center;top:422.83px;font-size:10.6px;line-height:10.6px;color:#0b0b0b;font-weight:700;letter-spacing:-0.5px;">FRIDAY</div>
<div class="t" style="left:1017.20px;width:600px;text-align:center;top:462.78px;font-size:10.6px;line-height:10.6px;color:#0b0b0b;font-weight:700;letter-spacing:-0.5px;">E</div>
<div class="t" style="left:1074.40px;width:600px;text-align:center;top:462.78px;font-size:10.6px;line-height:10.6px;color:#0b0b0b;font-weight:700;letter-spacing:-0.5px;">S</div>
<div class="t" style="left:1162.30px;width:600px;text-align:center;top:407.78px;font-size:10.6px;line-height:10.6px;color:#0b0b0b;font-weight:700;letter-spacing:-0.15px;">2024-11-02</div>
<div class="t" style="left:1162.30px;width:600px;text-align:center;top:422.83px;font-size:10.6px;line-height:10.6px;color:#0b0b0b;font-weight:700;letter-spacing:-0.5px;">SATURDAY</div>
<div class="t" style="left:1129.40px;width:600px;text-align:center;top:462.78px;font-size:10.6px;line-height:10.6px;color:#0b0b0b;font-weight:700;letter-spacing:-0.5px;">E</div>
<div class="t" style="left:1188.90px;width:600px;text-align:center;top:462.78px;font-size:10.6px;line-height:10.6px;color:#0b0b0b;font-weight:700;letter-spacing:-0.5px;">S</div>
<div class="t" style="left:300.60px;top:462.78px;font-size:10.6px;line-height:10.6px;color:#0b0b0b;font-weight:700;letter-spacing:-0.5px;">EMPLOYEE NAME</div>
<div class="t" style="left:261.50px;width:600px;text-align:center;top:462.78px;font-size:10.6px;line-height:10.6px;color:#0b0b0b;font-weight:700;letter-spacing:-0.5px;">ROLE</div>
<div class="t" style="left:351.20px;width:600px;text-align:center;top:462.78px;font-size:10.6px;line-height:10.6px;color:#0b0b0b;font-weight:700;letter-spacing:-0.5px;">CAPACITY</div>
<div class="t" style="left:331.70px;top:501.68px;font-size:12.6px;line-height:12.6px;color:#293240;font-weight:400;-webkit-text-stroke:0.4px #293240;">Kirsten Benson</div>
<div class="t" style="left:331.70px;top:520.35px;font-size:11.1px;line-height:11.1px;color:#9b9b9b;font-weight:400;-webkit-text-stroke:0.15px #9b9b9b;">Tokyo</div>
<div class="t" style="left:261.50px;width:600px;text-align:center;top:509.35px;font-size:13px;line-height:13px;color:#40464f;font-weight:400;">staff</div>
<div class="t" style="left:351.20px;width:600px;text-align:center;top:509.35px;font-size:13px;line-height:13px;color:#40464f;font-weight:400;">48</div>
<div class="t" style="left:433.15px;width:600px;text-align:center;top:509.35px;font-size:13px;line-height:13px;color:#40464f;font-weight:400;">0</div>
<div class="t" style="left:489.65px;width:600px;text-align:center;top:509.35px;font-size:13px;line-height:13px;color:#40464f;font-weight:400;">0</div>
<div class="t" style="left:546.15px;width:600px;text-align:center;top:509.35px;font-size:13px;line-height:13px;color:#40464f;font-weight:400;">8</div>
<div class="t" style="left:603.05px;width:600px;text-align:center;top:509.35px;font-size:13px;line-height:13px;color:#40464f;font-weight:400;">0</div>
<div class="t" style="left:659.75px;width:600px;text-align:center;top:509.35px;font-size:13px;line-height:13px;color:#40464f;font-weight:400;">8</div>
<div class="t" style="left:716.00px;width:600px;text-align:center;top:509.35px;font-size:13px;line-height:13px;color:#40464f;font-weight:400;">0</div>
<div class="t" style="left:776.40px;width:600px;text-align:center;top:509.35px;font-size:13px;line-height:13px;color:#40464f;font-weight:400;">8</div>
<div class="t" style="left:840.80px;width:600px;text-align:center;top:509.35px;font-size:13px;line-height:13px;color:#40464f;font-weight:400;">0</div>
<div class="t" style="left:905.00px;width:600px;text-align:center;top:509.35px;font-size:13px;line-height:13px;color:#40464f;font-weight:400;">8</div>
<div class="t" style="left:962.80px;width:600px;text-align:center;top:509.35px;font-size:13px;line-height:13px;color:#40464f;font-weight:400;">0</div>
<div class="t" style="left:1017.20px;width:600px;text-align:center;top:509.35px;font-size:13px;line-height:13px;color:#40464f;font-weight:400;">8</div>
<div class="t" style="left:1074.40px;width:600px;text-align:center;top:509.35px;font-size:13px;line-height:13px;color:#40464f;font-weight:400;">0</div>
<div class="t" style="left:1129.40px;width:600px;text-align:center;top:509.35px;font-size:13px;line-height:13px;color:#40464f;font-weight:400;">8</div>
<div class="t" style="left:1188.90px;width:600px;text-align:center;top:509.35px;font-size:13px;line-height:13px;color:#40464f;font-weight:400;">0</div>
<div class="b" style="left:300px;top:502.65px;width:25px;height:25px;border-radius:7px;border:2px solid #0caf60;background:#fff;overflow:hidden">
<svg style="position:absolute;left:0;top:0;width:21px;height:21px" viewBox="0 0 21 21"><rect width="21" height="21" fill="#f1eded"/><path d="M4 21c.6-2.6 2.8-3.6 6.5-3.6s5.9 1 6.5 3.6z" fill="#f2ece9"/><path d="M8.4 15.5h4.2v2.6c-1.3.8-2.9.8-4.2 0z" fill="#d9a082"/><ellipse cx="10.6" cy="11.2" rx="4.6" ry="6" fill="#e4ad90"/><path d="M5.6 10.2c-.7-4.8 1.7-7.6 5-7.6c3.3 0 5.5 2.4 4.9 7c-.5-1.8-1.6-2.9-4.9-2.9c-2.9 0-4.4 1-5 3.5z" fill="#46281b"/><path d="M7.8 10.8h1.8M11.6 10.8h1.8" stroke="#5a3526" stroke-width=".9"/><path d="M10.5 11.3v2.2" stroke="#c98a6c" stroke-width=".7"/><path d="M8.5 14.3c1.2 1 2.8 1 4 0" stroke="#fff" stroke-width="1.2" fill="none"/></svg>
</div>
<div class="t" style="left:331.70px;top:556.28px;font-size:12.6px;line-height:12.6px;color:#293240;font-weight:400;-webkit-text-stroke:0.4px #293240;">Richard Atkinson</div>
<div class="t" style="left:331.70px;top:574.95px;font-size:11.1px;line-height:11.1px;color:#9b9b9b;font-weight:400;-webkit-text-stroke:0.15px #9b9b9b;">New York</div>
<div class="t" style="left:261.50px;width:600px;text-align:center;top:563.95px;font-size:13px;line-height:13px;color:#40464f;font-weight:400;">staff</div>
<div class="t" style="left:351.20px;width:600px;text-align:center;top:563.95px;font-size:13px;line-height:13px;color:#40464f;font-weight:400;">34</div>
<div class="t" style="left:433.15px;width:600px;text-align:center;top:563.95px;font-size:13px;line-height:13px;color:#40464f;font-weight:400;">0</div>
<div class="t" style="left:489.65px;width:600px;text-align:center;top:563.95px;font-size:13px;line-height:13px;color:#40464f;font-weight:400;">0</div>
<div class="t" style="left:546.15px;width:600px;text-align:center;top:563.95px;font-size:13px;line-height:13px;color:#40464f;font-weight:400;">6</div>
<div class="t" style="left:603.05px;width:600px;text-align:center;top:563.95px;font-size:13px;line-height:13px;color:#40464f;font-weight:400;">0</div>
<div class="t" style="left:659.75px;width:600px;text-align:center;top:563.95px;font-size:13px;line-height:13px;color:#40464f;font-weight:400;">7</div>
<div class="t" style="left:716.00px;width:600px;text-align:center;top:563.95px;font-size:13px;line-height:13px;color:#40464f;font-weight:400;">0</div>
<div class="t" style="left:776.40px;width:600px;text-align:center;top:563.95px;font-size:13px;line-height:13px;color:#40464f;font-weight:400;">7</div>
<div class="t" style="left:840.80px;width:600px;text-align:center;top:563.95px;font-size:13px;line-height:13px;color:#40464f;font-weight:400;">0</div>
<div class="t" style="left:905.00px;width:600px;text-align:center;top:563.95px;font-size:13px;line-height:13px;color:#40464f;font-weight:400;">7</div>
<div class="t" style="left:962.80px;width:600px;text-align:center;top:563.95px;font-size:13px;line-height:13px;color:#40464f;font-weight:400;">0</div>
<div class="t" style="left:1017.20px;width:600px;text-align:center;top:563.95px;font-size:13px;line-height:13px;color:#40464f;font-weight:400;">7</div>
<div class="t" style="left:1074.40px;width:600px;text-align:center;top:563.95px;font-size:13px;line-height:13px;color:#40464f;font-weight:400;">0</div>
<div class="t" style="left:1129.40px;width:600px;text-align:center;top:563.95px;font-size:13px;line-height:13px;color:#40464f;font-weight:400;">0</div>
<div class="t" style="left:1188.90px;width:600px;text-align:center;top:563.95px;font-size:13px;line-height:13px;color:#40464f;font-weight:400;">0</div>
<div class="b" style="left:300px;top:557.25px;width:25px;height:25px;border-radius:7px;border:2px solid #0caf60;background:#fff;overflow:hidden">
<svg style="position:absolute;left:0;top:0;width:21px;height:21px" viewBox="0 0 21 21"><rect width="21" height="21" fill="#474647"/><rect y="5" width="21" height="1.2" fill="#5d5b5c"/><rect x="14.5" y="11" width="6.5" height="10" fill="#121112"/><path d="M2.5 21c.3-5 2.7-8.5 8-8.5s7 3 7.3 8.5z" fill="#f0c3b0"/><path d="M4.5 16.5l1.5 1M7 19l1.2-.8M12 17.5l1.3.8M14 19.8l1-.9M9.5 15.5l1 .5" stroke="#e2765a" stroke-width="1"/><path d="M3.8 9.5c-.6-4.6 2.2-7.8 6.2-7.8s6.6 3 6 7.8c-.3 2.3-1.3 3.6-2.3 4.2h-7.6c-1-.6-2-1.9-2.3-4.2z" fill="#1d1512"/><ellipse cx="10.1" cy="8.6" rx="2.3" ry="3.4" fill="#b78067"/><path d="M9.2 11.8h1.8v2.6h-1.8z" fill="#b78067"/><path d="M7.9 7.7h4.4" stroke="#101010" stroke-width="1.1"/></svg>
</div>
<div class="t" style="left:331.70px;top:610.78px;font-size:12.6px;line-height:12.6px;color:#293240;font-weight:400;-webkit-text-stroke:0.4px #293240;">Shafira Barnes</div>
<div class="t" style="left:331.70px;top:629.45px;font-size:11.1px;line-height:11.1px;color:#9b9b9b;font-weight:400;-webkit-text-stroke:0.15px #9b9b9b;">Gujarat</div>
<div class="t" style="left:261.50px;width:600px;text-align:center;top:618.45px;font-size:13px;line-height:13px;color:#40464f;font-weight:400;">staff</div>
<div class="t" style="left:351.20px;width:600px;text-align:center;top:618.45px;font-size:13px;line-height:13px;color:#40464f;font-weight:400;">34</div>
<div class="t" style="left:433.15px;width:600px;text-align:center;top:618.45px;font-size:13px;line-height:13px;color:#40464f;font-weight:400;">0</div>
<div class="t" style="left:489.65px;width:600px;text-align:center;top:618.45px;font-size:13px;line-height:13px;color:#40464f;font-weight:400;">0</div>
<div class="t" style="left:546.15px;width:600px;text-align:center;top:618.45px;font-size:13px;line-height:13px;color:#40464f;font-weight:400;">8</div>
<div class="t" style="left:603.05px;width:600px;text-align:center;top:618.45px;font-size:13px;line-height:13px;color:#40464f;font-weight:400;">0</div>
<div class="t" style="left:659.75px;width:600px;text-align:center;top:618.45px;font-size:13px;line-height:13px;color:#40464f;font-weight:400;">8</div>
<div class="t" style="left:716.00px;width:600px;text-align:center;top:618.45px;font-size:13px;line-height:13px;color:#40464f;font-weight:400;">0</div>
<div class="t" style="left:776.40px;width:600px;text-align:center;top:618.45px;font-size:13px;line-height:13px;color:#40464f;font-weight:400;">8</div>
<div class="t" style="left:840.80px;width:600px;text-align:center;top:618.45px;font-size:13px;line-height:13px;color:#40464f;font-weight:400;">0</div>
<div class="t" style="left:905.00px;width:600px;text-align:center;top:618.45px;font-size:13px;line-height:13px;color:#40464f;font-weight:400;">10</div>
<div class="t" style="left:962.80px;width:600px;text-align:center;top:618.45px;font-size:13px;line-height:13px;color:#40464f;font-weight:400;">0</div>
<div class="t" style="left:1017.20px;width:600px;text-align:center;top:618.45px;font-size:13px;line-height:13px;color:#40464f;font-weight:400;">0</div>
<div class="t" style="left:1074.40px;width:600px;text-align:center;top:618.45px;font-size:13px;line-height:13px;color:#40464f;font-weight:400;">0</div>
<div class="t" style="left:1129.40px;width:600px;text-align:center;top:618.45px;font-size:13px;line-height:13px;color:#40464f;font-weight:400;">0</div>
<div class="t" style="left:1188.90px;width:600px;text-align:center;top:618.45px;font-size:13px;line-height:13px;color:#40464f;font-weight:400;">0</div>
<div class="b" style="left:300px;top:613.50px;width:25px;height:21px;border-radius:7px;border:2px solid #0caf60;background:#fff;overflow:hidden"><svg style="position:absolute;left:0;top:0;width:21px;height:17px" viewBox="0 0 21 17"><path d="M0.4 0.4h8l4 4v8.2h-12.4z" fill="#cfe0f7"/><path d="M2 3.2c1-.9 2.2-.9 3 0c.8-.5 1.8-.3 2 .6h-5.4z" fill="#fff"/><path d="M8.2 0.6v3.6h4" fill="#fff" stroke="#6d6d6d" stroke-width=".9"/><path d="M0.4 12.8c1.8-3.6 5.2-5.2 9-4.2l-4.3 4.2z" fill="#4fae32"/><path d="M8.5 12.6l2.2-2.2l1.7 2.2z" fill="#4fae32"/><path d="M3.6 13l8.8-6.5" stroke="#fff" stroke-width="1.3"/></svg><div style="position:absolute;left:12.4px;top:2.6px;font-size:12.5px;line-height:14px;color:#2e3a4e;font-family:\"Liberation Sans\",sans-serif">in</div></div>
<div class="t" style="left:331.70px;top:665.28px;font-size:12.6px;line-height:12.6px;color:#293240;font-weight:400;-webkit-text-stroke:0.4px #293240;">Maia</div>
<div class="t" style="left:331.70px;top:683.95px;font-size:11.1px;line-height:11.1px;color:#9b9b9b;font-weight:400;-webkit-text-stroke:0.15px #9b9b9b;">London</div>
<div class="t" style="left:261.50px;width:600px;text-align:center;top:672.95px;font-size:13px;line-height:13px;color:#40464f;font-weight:400;">staff</div>
<div class="t" style="left:351.20px;width:600px;text-align:center;top:672.95px;font-size:13px;line-height:13px;color:#40464f;font-weight:400;">26</div>
<div class="t" style="left:433.15px;width:600px;text-align:center;top:672.95px;font-size:13px;line-height:13px;color:#40464f;font-weight:400;">0</div>
<div class="t" style="left:489.65px;width:600px;text-align:center;top:672.95px;font-size:13px;line-height:13px;color:#40464f;font-weight:400;">0</div>
<div class="t" style="left:546.15px;width:600px;text-align:center;top:672.95px;font-size:13px;line-height:13px;color:#40464f;font-weight:400;">5</div>
<div class="t" style="left:603.05px;width:600px;text-align:center;top:672.95px;font-size:13px;line-height:13px;color:#40464f;font-weight:400;">0</div>
<div class="t" style="left:659.75px;width:600px;text-align:center;top:672.95px;font-size:13px;line-height:13px;color:#40464f;font-weight:400;">5</div>
<div class="t" style="left:716.00px;width:600px;text-align:center;top:672.95px;font-size:13px;line-height:13px;color:#40464f;font-weight:400;">0</div>
<div class="t" style="left:776.40px;width:600px;text-align:center;top:672.95px;font-size:13px;line-height:13px;color:#40464f;font-weight:400;">5</div>
<div class="t" style="left:840.80px;width:600px;text-align:center;top:672.95px;font-size:13px;line-height:13px;color:#40464f;font-weight:400;">0</div>
<div class="t" style="left:905.00px;width:600px;text-align:center;top:672.95px;font-size:13px;line-height:13px;color:#40464f;font-weight:400;">5</div>
<div class="t" style="left:962.80px;width:600px;text-align:center;top:672.95px;font-size:13px;line-height:13px;color:#40464f;font-weight:400;">0</div>
<div class="t" style="left:1017.20px;width:600px;text-align:center;top:672.95px;font-size:13px;line-height:13px;color:#40464f;font-weight:400;">6</div>
<div class="t" style="left:1074.40px;width:600px;text-align:center;top:672.95px;font-size:13px;line-height:13px;color:#40464f;font-weight:400;">0</div>
<div class="t" style="left:1129.40px;width:600px;text-align:center;top:672.95px;font-size:13px;line-height:13px;color:#40464f;font-weight:400;">0</div>
<div class="t" style="left:1188.90px;width:600px;text-align:center;top:672.95px;font-size:13px;line-height:13px;color:#40464f;font-weight:400;">0</div>
<div class="b" style="left:300px;top:666.25px;width:25px;height:25px;border-radius:7px;border:2px solid #0caf60;background:#fff;overflow:hidden">
<svg style="position:absolute;left:0;top:0;width:21px;height:21px" viewBox="0 0 21 21"><rect width="21" height="21" fill="#6f6558"/><rect x="14.5" width="6.5" height="21" fill="#a3a283"/><rect width="4" height="21" fill="#4f4644"/><path d="M3.6 11.5c-.5-6 2.6-9.5 6.9-9.5s7.4 3.5 6.9 9.5c-.3 3.2-1 5-2 6.2h-9.8c-1-1.2-1.7-3-2-6.2z" fill="#4a3527"/><path d="M1.5 21c.8-3.6 3.8-5.6 9-5.6s8.2 2 9 5.6z" fill="#0e0b0b"/><ellipse cx="10.6" cy="10" rx="3.8" ry="4.8" fill="#e8c6ae"/><path d="M6.6 8.2c.8-2.6 2.3-3.6 4-3.6s3.4 1 4 3.6c-1.1-1-2.4-1.4-4-1.4s-2.9.4-4 1.4z" fill="#4a3527"/><path d="M7.3 9.4h6.6" stroke="#2b2523" stroke-width="1.2"/><path d="M9.2 12.9c.9.5 1.9.5 2.8 0" stroke="#c98078" stroke-width=".9" fill="none"/></svg>
</div>
<div class="t" style="right:139.70px;text-align:right;top:750.03px;font-size:12.6px;line-height:12.6px;color:#293240;font-weight:400;-webkit-text-stroke:0.45px #293240;">Total Capacity:</div>
<div class="t" style="right:67.00px;text-align:right;top:750.29px;font-size:12.3px;line-height:12.3px;color:#293240;font-weight:400;-webkit-text-stroke:0.15px #293240;">142</div>
<div class="t" style="right:139.70px;text-align:right;top:774.13px;font-size:12.6px;line-height:12.6px;color:#293240;font-weight:400;-webkit-text-stroke:0.45px #293240;">Total Estimated Time:</div>
<div class="t" style="right:67.00px;text-align:right;top:774.39px;font-size:12.3px;line-height:12.3px;color:#293240;font-weight:400;-webkit-text-stroke:0.15px #293240;">142</div>
<div class="t" style="right:139.70px;text-align:right;top:798.13px;font-size:12.6px;line-height:12.6px;color:#293240;font-weight:400;-webkit-text-stroke:0.45px #293240;">Total Spent Time:</div>
<div class="t" style="right:67.00px;text-align:right;top:798.39px;font-size:12.3px;line-height:12.3px;color:#293240;font-weight:400;-webkit-text-stroke:0.15px #293240;">0.00</div>
<div class="t" style="right:139.70px;text-align:right;top:822.33px;font-size:12.6px;line-height:12.6px;color:#293240;font-weight:400;-webkit-text-stroke:0.45px #293240;">Total Available</div>
<div class="t" style="right:67.00px;text-align:right;top:822.59px;font-size:12.3px;line-height:12.3px;color:#293240;font-weight:400;-webkit-text-stroke:0.15px #293240;">0</div>
<div class="t" style="right:139.70px;text-align:right;top:839.93px;font-size:12.6px;line-height:12.6px;color:#293240;font-weight:400;-webkit-text-stroke:0.45px #293240;">Capacity:</div>
</body></html>
